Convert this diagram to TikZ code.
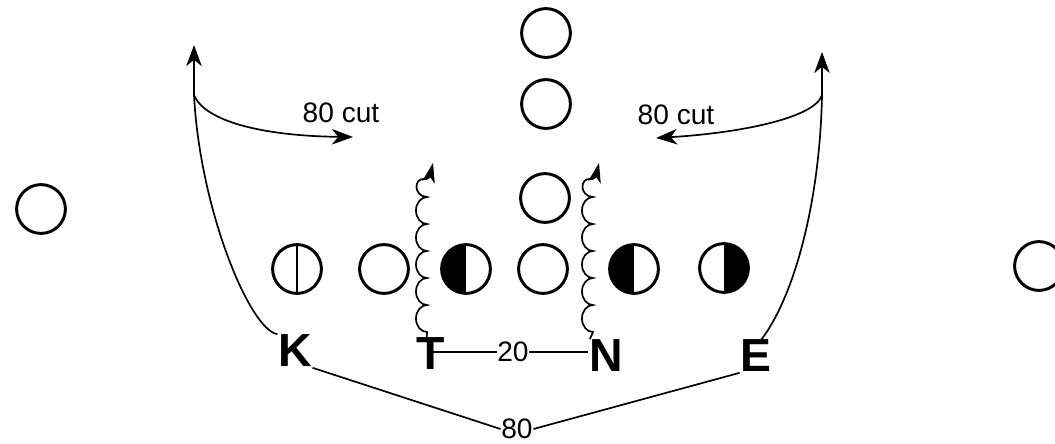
\documentclass[tikz,border=0pt]{standalone}
\usepackage{fontspec}
\setmainfont{Liberation Sans}
\usetikzlibrary{arrows.meta}
\tikzset{
	player/.style={circle, draw, line width=2.1pt, minimum size=1.22cm, inner sep=0pt},
	halfL/.style={player, path picture={\fill (path picture bounding box.south west) rectangle (path picture bounding box.north);}},
	halfR/.style={player, path picture={\fill (path picture bounding box.south) rectangle (path picture bounding box.north east);}},
	split/.style={player, path picture={\draw[line width=2.1pt] (path picture bounding box.south) -- (path picture bounding box.north);}},
	letter/.style={font=\fontsize{33}{36}\selectfont\bfseries, inner sep=0pt},
	lbl/.style={font=\fontsize{20}{24}\selectfont, inner sep=0pt},
	wig/.style={-{Stealth[length=14pt, width=9pt, inset=4pt]}}
}
\begin{document}
\begin{tikzpicture}[x=0.025cm, y=-0.025cm, >={Stealth[length=15pt, width=11pt, inset=4.5pt]}, line width=1.2pt]
	\clip (0,0) rectangle (1055,443);
	\node[player] (s1) at (41,209) {};
	\node[player] (s2) at (1039,266) {};
	\node[player] (d1) at (546,33) {};
	\node[player] (d2) at (546,104) {};
	\node[player] (d3) at (545,198) {};
	\node[split] (l1) at (297,269) {};
	\node[player] (l2) at (384,269) {};
	\node[halfL] (l3) at (466,269) {};
	\node[player] (l4) at (543,269) {};
	\node[halfL] (l5) at (634,269) {};
	\node[halfR] (l6) at (724,268) {};
	\node[letter] (K) at (295,351) {K};
	\node[letter] (T) at (431,354) {T};
	\node[letter] (N) at (606,356) {N};
	\node[letter] (E) at (756,356) {E};
	\coordinate (kTurn) at (194,95);
	\coordinate (kTip) at (194,45);
	\coordinate (kCut) at (353,137);
	\coordinate (eTurn) at (822,95);
	\coordinate (eTip) at (822,52);
	\coordinate (eCut) at (656,138);
	\draw[->] (K.north west) .. controls (250,330) and (200,210) .. (kTurn) -- (kTip);
	\draw[->] (kTurn) .. controls (205,122) and (265,136) .. (kCut);
	\node[lbl] (kLbl) at (341,113) {80 cut};
	\draw[->] ([xshift=4pt]E.north) .. controls (795,295) and (820,200) .. (eTurn) -- (eTip);
	\draw[->] (eTurn) .. controls (815,118) and (740,133) .. (eCut);
	\node[lbl] (eLbl) at (676,115) {80 cut};
	\draw[wig] ([xshift=-3pt]T.north) -- (427,332) \foreach \b in {1,...,5}{arc[start angle=90, end angle=270, x radius=11, y radius=13.5]}
		.. controls (413,196) and (414,178) .. (424,179) .. controls (428,180) and (430,176) .. (433,163);
	\draw[wig] ([xshift=1pt]N.north west) -- (593,332) \foreach \b in {1,...,5}{arc[start angle=90, end angle=270, x radius=11, y radius=13.5]}
		.. controls (579,196) and (580,178) .. (590,179) .. controls (594,180) and (596,176) .. (599,163);
	\node[lbl, fill=white] (tn) at (513,352) {20};
	\draw (T.center |- tn) -- (tn.west);
	\draw (tn.east) -- (N.west |- tn);
	\node[lbl] (kE) at (517,429) {80};
	\draw (K.south east) -- (kE.west);
	\draw (E.south west) -- (kE.east);
\end{tikzpicture}
\end{document}
